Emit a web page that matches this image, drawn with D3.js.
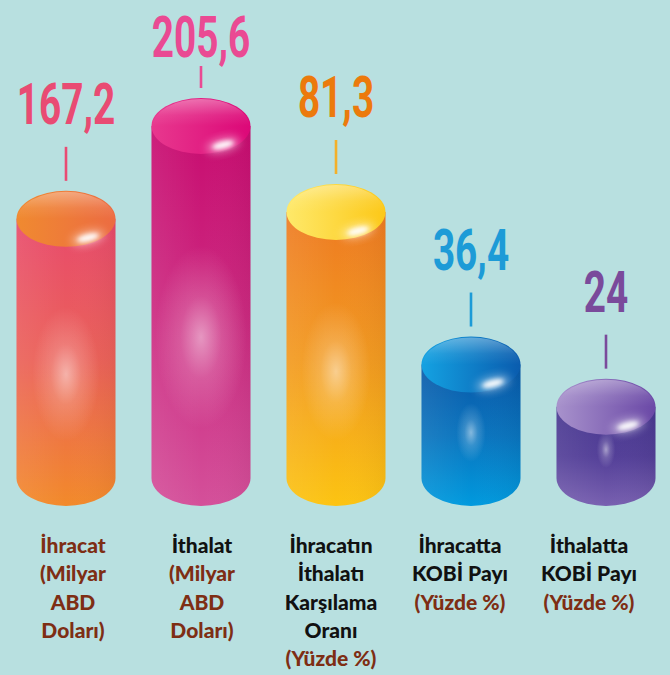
<!DOCTYPE html>
<html>
<head>
<meta charset="utf-8">
<script src="https://cdn.jsdelivr.net/npm/d3@7"></script>
<style>
  html, body { margin: 0; padding: 0; background: #b8e0e0; }
  svg { display: block; }
</style>
</head>
<body>
<svg id="chart" width="670" height="675"></svg>
<script>
// ---------- data ----------
const categories = ["İhracat", "İthalat", "İhracatın İthalatı Karşılama Oranı", "İhracatta KOBİ Payı", "İthalatta KOBİ Payı"];
const values = [167.2, 205.6, 81.3, 36.4, 24];
const units = ["usd", "usd", "pct", "pct", "pct"];
const nameLines = [["İhracat"], ["İthalat"], ["İhracatın", "İthalatı", "Karşılama", "Oranı"], ["İhracatta", "KOBİ Payı"], ["İthalatta", "KOBİ Payı"]];
const unitLines = [["(Milyar", "ABD", "Doları)"], ["(Milyar", "ABD", "Doları)"], ["(Yüzde %)"], ["(Yüzde %)"], ["(Yüzde %)"]];

// ---------- styles ----------
const W = 670, H = 675;
const baseY = 478, rx = 49.5, ry = 28;
const valueColors = ["#e94b73", "#ea4a93", "#ec7a0c", "#1d9bd7", "#7a4a9b"];
const lineColors = ["#e94b73", "#ea4a93", "#f3b02a", "#1d9bd7", "#7a4a9b"];
const bodyStops = [
  ["#e84a6c", "#eb6258", "#f28a2a"],
  ["#c80c70", "#cc2a80", "#d4509a"],
  ["#ee7a22", "#f29a20", "#fcc412"],
  ["#0858a8", "#0a74be", "#009ade"],
  ["#483890", "#533f98", "#7860b0"]
];
const topStops = [
  ["#f08a30", "#ec6c42"],
  ["#e8388e", "#dc0878"],
  ["#fee96a", "#fcc818"],
  ["#14a2e2", "#0a5cae"],
  ["#a892cc", "#6a48a6"]
];
const nameColors = ["#7e2e14", "#111111", "#111111", "#111111", "#111111"];
const unitColor = "#7e2e14";

// ---------- scales ----------
const x = d3.scalePoint().domain(categories).range([66, 606]);
const xLabel = d3.scalePoint().domain(categories).range([73, 589]);
const yUsd = d3.scaleLinear().domain([60, 205.6]).range([baseY, 126]);
const yPct = d3.scaleLinear().domain([3, 81.3]).range([baseY, 212]);
const yOf = i => units[i] === "usd" ? yUsd(values[i]) : yPct(values[i]);

const locale = d3.formatLocale({ decimal: ",", thousands: ".", grouping: [3], currency: ["", ""] });
const fmt = locale.format(".1~f");

const svg = d3.select("#chart");
svg.append("rect").attr("width", W).attr("height", H).attr("fill", "#b8e0e0");

const defs = svg.append("defs");
categories.forEach((c, i) => {
  const lg = defs.append("linearGradient").attr("id", "body" + i)
    .attr("x1", 0).attr("y1", 0).attr("x2", 0).attr("y2", 1);
  bodyStops[i].forEach((col, k) => lg.append("stop").attr("offset", k / (bodyStops[i].length - 1)).attr("stop-color", col));
  const tg = defs.append("linearGradient").attr("id", "top" + i)
    .attr("x1", 0).attr("y1", 0).attr("x2", 1).attr("y2", 0);
  topStops[i].forEach((col, k) => tg.append("stop").attr("offset", k).attr("stop-color", col));
});
const glow = defs.append("radialGradient").attr("id", "glow");
glow.append("stop").attr("offset", 0).attr("stop-color", "#fff").attr("stop-opacity", 0.5);
glow.append("stop").attr("offset", 0.45).attr("stop-color", "#fff").attr("stop-opacity", 0.18);
glow.append("stop").attr("offset", 1).attr("stop-color", "#fff").attr("stop-opacity", 0);
const rim = defs.append("linearGradient").attr("id", "rim").attr("x1", 0).attr("y1", 0).attr("x2", 0).attr("y2", 1);
rim.append("stop").attr("offset", 0).attr("stop-color", "#fff").attr("stop-opacity", 0.35);
rim.append("stop").attr("offset", 0.3).attr("stop-color", "#fff").attr("stop-opacity", 0.08);
rim.append("stop").attr("offset", 0.5).attr("stop-color", "#fff").attr("stop-opacity", 0);
const shade = defs.append("linearGradient").attr("id", "shade").attr("x1", 0).attr("y1", 0).attr("x2", 1).attr("y2", 0);
shade.append("stop").attr("offset", 0).attr("stop-color", "#fff").attr("stop-opacity", 0.08);
shade.append("stop").attr("offset", 0.5).attr("stop-color", "#fff").attr("stop-opacity", 0);
shade.append("stop").attr("offset", 1).attr("stop-color", "#000").attr("stop-opacity", 0.04);
const blur = defs.append("filter").attr("id", "blur").attr("x", "-50%").attr("y", "-50%").attr("width", "200%").attr("height", "200%");
blur.append("feGaussianBlur").attr("stdDeviation", 2.2);
const blurBig = defs.append("filter").attr("id", "blurBig").attr("x", "-50%").attr("y", "-50%").attr("width", "200%").attr("height", "200%");
blurBig.append("feGaussianBlur").attr("stdDeviation", 4);

// ---------- cylinders ----------
const g = svg.append("g");
categories.forEach((c, i) => {
  const cx = x(c), ty = yOf(i), h = baseY - ty;
  const x0 = cx - rx, x1 = cx + rx;
  const bodyPath = `M${x0},${ty} L${x0},${baseY} A${rx},${ry} 0 0 0 ${x1},${baseY} L${x1},${ty} Z`;
  const cyl = g.append("g");
  defs.append("clipPath").attr("id", "clip" + i).append("path").attr("d", bodyPath);
  cyl.append("path").attr("d", bodyPath).attr("fill", `url(#body${i})`);
  cyl.append("path").attr("d", bodyPath).attr("fill", "url(#shade)");
  cyl.append("ellipse").attr("clip-path", `url(#clip${i})`)
    .attr("cx", cx).attr("cy", ty + h * 0.6)
    .attr("rx", Math.max(9, h * 0.13)).attr("ry", Math.max(18, h * 0.26))
    .attr("fill", "url(#glow)");
  // top face
  cyl.append("ellipse").attr("cx", cx).attr("cy", ty).attr("rx", rx).attr("ry", ry)
    .attr("fill", `url(#top${i})`);
  cyl.append("ellipse").attr("cx", cx).attr("cy", ty).attr("rx", rx - 1).attr("ry", ry - 1)
    .attr("fill", "url(#rim)");
  // specular highlight
  cyl.append("ellipse").attr("cx", cx + 22).attr("cy", ty + 19).attr("rx", 17).attr("ry", 7)
    .attr("transform", `rotate(-14,${cx + 22},${ty + 19})`)
    .attr("fill", "#fff").attr("opacity", 0.45).attr("filter", "url(#blurBig)");
  cyl.append("ellipse").attr("cx", cx + 22).attr("cy", ty + 19).attr("rx", 11).attr("ry", 3.5)
    .attr("transform", `rotate(-14,${cx + 22},${ty + 19})`)
    .attr("fill", "#fff").attr("opacity", 0.95).attr("filter", "url(#blur)");
});

// ---------- value labels & connectors ----------
categories.forEach((c, i) => {
  const cx = x(c), ty = yOf(i);
  const topEdge = ty - ry;
  const baseline = Math.max(57, topEdge - 67);
  const lineBottom = topEdge - 10;
  const lineTop = Math.max(topEdge - 44, baseline + 9);
  svg.append("line").attr("x1", cx).attr("x2", cx).attr("y1", lineTop).attr("y2", lineBottom)
    .attr("stroke", lineColors[i]).attr("stroke-width", 2.6);
  svg.append("g").attr("transform", `translate(${cx},${baseline}) scale(0.68,1)`)
    .append("text").attr("text-anchor", "middle")
    .attr("font-family", "Roboto, 'DejaVu Sans', sans-serif").attr("font-weight", 700)
    .attr("font-size", 57).attr("fill", valueColors[i])
    .text(fmt(values[i]));
});

// ---------- category labels ----------
const firstBase = 553, lineH = 28.3;
categories.forEach((c, i) => {
  const lx = xLabel(c);
  const t = svg.append("text").attr("text-anchor", "middle")
    .attr("font-family", "Lato, 'Open Sans', sans-serif").attr("font-weight", 900)
    .attr("font-size", 21);
  let k = 0;
  nameLines[i].forEach(s => {
    t.append("tspan").attr("x", lx).attr("y", firstBase + lineH * k++).attr("fill", nameColors[i]).text(s);
  });
  unitLines[i].forEach(s => {
    t.append("tspan").attr("x", lx).attr("y", firstBase + lineH * k++).attr("fill", unitColor).text(s);
  });
});
</script>
</body>
</html>
